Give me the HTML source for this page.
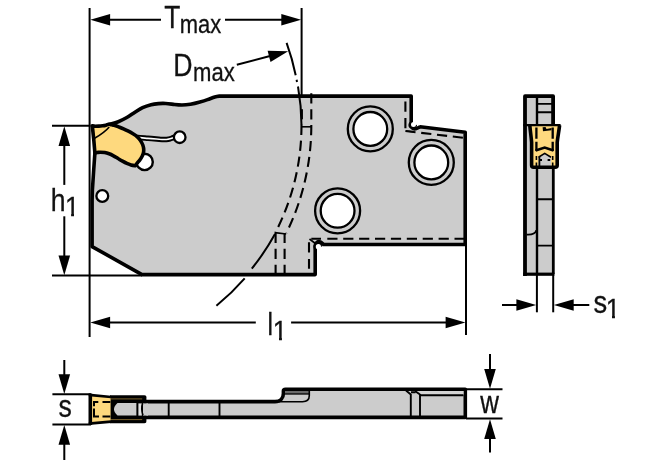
<!DOCTYPE html>
<html lang="en">
<head>
<meta charset="utf-8">
<title>Tmax Dmax h1 l1 s s1 w</title>
<style>
html,body{margin:0;padding:0;background:#fff;}
body{width:670px;height:460px;overflow:hidden;}
svg{display:block;will-change:transform;}
text{font-family:"Liberation Sans",sans-serif;fill:#111;stroke:#111;stroke-width:0.3px;}
.thin{stroke:#000;stroke-width:2;fill:none;}
.med{stroke:#000;stroke-width:1.6;fill:none;}
.thick{stroke:#000;stroke-width:3.6;fill:none;stroke-linejoin:round;}
.dash{stroke:#000;stroke-width:2.1;fill:none;stroke-dasharray:10.2 5.7;}
.ring{stroke:#000;stroke-width:2.3;fill:none;}
.g{fill:#cccccc;}
.y{fill:#fed97e;}
.ah{fill:#000;stroke:none;}
</style>
</head>
<body>
<svg width="670" height="460" viewBox="0 0 670 460">
<rect width="670" height="460" fill="#fff"/>

<!-- ===== MAIN VIEW ===== -->
<g id="main">
  <!-- body -->
  <path class="g thick" d="M108.5,124.6 C110.1,124.1 115.2,122.9 118.3,121.7 C121.3,120.5 124.0,119.1 126.8,117.5 C129.6,115.9 132.7,113.6 135.3,112.0 C137.9,110.4 140.0,108.9 142.6,107.7 C145.2,106.5 148.5,105.4 151.1,104.7 C153.7,104.0 155.9,103.8 158.4,103.6 C160.9,103.4 163.1,103.3 165.8,103.5 C168.5,103.7 171.9,104.2 174.6,104.5 C177.3,104.8 179.3,105.0 181.9,105.0 C184.5,105.0 187.6,104.7 190.4,104.2 C193.2,103.7 196.2,103.0 199.0,102.2 C201.8,101.4 204.9,100.5 207.5,99.6 C210.1,98.7 212.8,97.6 214.8,97.0 C216.8,96.4 218.9,96.2 219.7,96.1 L411.2,96.1 L411.2,122 C410.6,125.5 411.5,128.6 414.5,128.9 C416.5,129 418,127.8 420,126.8 L465.2,132.3 L465.2,244.5 L323.6,244.5 L320.5,242 C318,240.8 315.6,242.5 315.2,245.5 C315,247.5 315.2,249 315.2,251 L315.2,274.6 L142,274.6 L92.1,246.6 L92.1,200 L92.4,190 L93.7,170 L94.9,153 Z"/>
  <!-- hidden dashed lines -->
  <path class="dash" d="M405.4,101.6 L405.4,111.9 M405.4,118 L405.4,131"/>
  <path class="dash" d="M405.4,131 L463.5,137.8" stroke-dashoffset="-0" stroke-dasharray="11.5 5.5 10.4 5.6 10.4 5.6 10.4 5.6"/>
  <path class="med" d="M406,131 L414,131.8" stroke-width="2.6"/>
  <path class="dash" d="M309,268.8 L309,259.1 M309,252.4 L309,238.8 L321,238.8 M327.3,238.8 L465,238.8" />
  <path class="med" d="M309.5,239 L316,244"/>
  <!-- Dmax hidden arcs -->
  <path class="dash" d="M311.3,93.3 L311.3,127 A244 244 0 0 1 286.4,233"/>
  <path class="med" d="M301.6,126.8 L311.3,126.8" stroke-width="1.8"/>
  <path class="dash" d="M301.9,109.2 L301.9,119.3"/>
  <path class="dash" d="M301.5,124.8 A234.3 234.3 0 0 1 275.2,233"/>
  <path class="med" d="M275,232.6 L286.2,234" stroke-width="1.8"/>
  <path class="dash" d="M275.6,232.9 L275.6,274"/>
  <path class="dash" d="M284.6,232.9 L284.6,274"/>
  <!-- holes -->
  <g class="ring">
    <circle cx="370.3" cy="128.9" r="22.5"/>
    <circle cx="370.3" cy="128.9" r="16.9" style="fill:#fff"/>
    <circle cx="431.3" cy="162.4" r="22.5"/>
    <circle cx="431.3" cy="162.4" r="16.9" style="fill:#fff"/>
    <circle cx="337.6" cy="210.8" r="22.5"/>
    <circle cx="337.6" cy="210.8" r="16.9" style="fill:#fff"/>
    <circle cx="102.3" cy="196" r="5.9" style="fill:#fff"/>
  </g>
  <!-- relief notches -->
  <circle cx="317.8" cy="246.4" r="4.3" fill="#000"/>
  <path d="M317,246.6 L322,246.6 L322,253 L317,253 Z" fill="#fff"/>
  <circle cx="318.4" cy="246.7" r="2.6" fill="#fff"/>
  <circle cx="412.7" cy="125" r="4.3" fill="#000"/>
  <path d="M413,120 L420,120 L420,125.2 L413,124.6 Z" fill="#fff"/>
  <circle cx="413.5" cy="124.6" r="2.5" fill="#fff"/>
  <!-- slot -->
  <path d="M136.0,135.7 C136.7,135.7 138.1,135.8 140.1,135.9 C142.1,136.0 145.3,136.3 148.0,136.5 C150.7,136.7 154.2,137.0 156.5,137.2 C158.8,137.4 160.4,137.6 162.0,137.7 C163.6,137.8 164.9,137.8 166.3,137.7 C167.7,137.5 169.1,137.2 170.5,136.8 C171.9,136.4 173.8,135.5 174.5,135.2 L175,139 C174.2,139.2 171.9,140.1 170.5,140.5 C169.1,140.9 167.7,141.1 166.3,141.2 C164.9,141.3 163.6,141.3 162.0,141.2 C160.4,141.1 158.8,141.0 156.5,140.8 C154.2,140.6 150.7,140.3 148.0,140.1 C145.3,139.9 142.1,139.6 140.1,139.5 C138.1,139.4 136.7,139.3 136.0,139.3 Z" fill="#fff"/>
  <path d="M136.0,135.7 C136.7,135.7 138.1,135.8 140.1,135.9 C142.1,136.0 145.3,136.3 148.0,136.5 C150.7,136.7 154.2,137.0 156.5,137.2 C158.8,137.4 160.4,137.6 162.0,137.7 C163.6,137.8 164.9,137.8 166.3,137.7 C167.7,137.5 169.1,137.2 170.5,136.8 C171.9,136.4 173.8,135.5 174.5,135.2" style="fill:none;stroke:#000;stroke-width:1.9"/>
  <path d="M136.0,139.3 C136.7,139.3 138.1,139.4 140.1,139.5 C142.1,139.6 145.3,139.9 148.0,140.1 C150.7,140.3 154.2,140.6 156.5,140.8 C158.8,141.0 160.4,141.1 162.0,141.2 C163.6,141.3 164.9,141.3 166.3,141.2 C167.7,141.1 169.1,140.9 170.5,140.5 C171.9,140.1 174.2,139.2 175.0,139.0" style="fill:none;stroke:#000;stroke-width:1.9"/>
  <circle cx="179.7" cy="137.2" r="5.8" style="fill:#fff;stroke:#000;stroke-width:2.3"/>
  <!-- relief circle -->
  <circle cx="144.6" cy="161.9" r="8.2" style="fill:#fff;stroke:#000;stroke-width:2.4"/>
  <!-- insert -->
  <path class="y" stroke="#000" stroke-width="3.6" stroke-linejoin="round" d="M92.3,125.8 C92.8,125.9 94.2,126.2 95.3,126.2 C96.4,126.2 97.6,126.2 98.8,126.1 C100.0,126.0 101.3,125.9 102.5,125.8 C103.7,125.7 104.9,125.5 105.9,125.2 C106.9,125.0 107.7,124.4 108.5,124.3 C109.3,124.2 110.2,124.4 110.5,124.4 C111.2,124.6 113.2,125.0 114.5,125.4 C115.8,125.8 116.5,126.0 118.0,126.6 C119.5,127.2 121.8,128.0 123.5,128.8 C125.2,129.6 126.8,130.4 128.4,131.2 C130.0,132.0 131.5,132.9 133.0,133.8 C134.5,134.7 136.1,135.7 137.3,136.8 C138.6,137.9 139.6,139.2 140.5,140.6 C141.4,142.0 142.3,143.6 142.8,145.0 C143.3,146.4 143.6,147.7 143.7,149.0 C143.8,150.3 143.7,151.8 143.4,153.0 C143.1,154.2 142.6,155.4 142.0,156.5 C141.4,157.6 140.7,158.7 140.0,159.7 C139.3,160.7 138.4,161.7 137.6,162.7 C136.8,163.7 135.6,165.3 135.2,165.8 C134.5,165.7 132.4,165.4 131.0,165.0 C129.6,164.6 128.3,164.0 126.9,163.4 C125.5,162.8 124.0,162.0 122.5,161.2 C121.0,160.4 119.5,159.4 118.0,158.5 C116.5,157.6 115.0,156.6 113.5,155.8 C112.0,155.0 110.6,154.3 109.1,153.8 C107.6,153.3 106.2,152.9 104.7,152.6 C103.2,152.3 101.5,152.2 100.3,152.2 C99.1,152.2 98.2,152.4 97.3,152.5 C96.4,152.6 95.3,152.9 94.9,153.0 L93.8,140 L92.3,125.8 Z"/>
  <path d="M93.8,138.8 C99.5,135.5 105.3,131.8 109.2,127" stroke="#000" stroke-width="1.6" fill="none"/>
</g>

<!-- Dmax arc -->
<path class="thin" d="M286.6,42.8 A234.3 234.3 0 0 1 295.7,75.2"/>
<path class="thin" d="M296.6,79.8 L297,82"/>
<path class="thin" d="M298,86.5 A234.3 234.3 0 0 1 301.5,125" stroke-width="1.6"/>
<path class="thin" d="M275,234 A234.3 234.3 0 0 1 251.8,268.6"/>
<path class="thin" d="M244.7,278.4 A234.3 234.3 0 0 1 216.4,305.8"/>

<!-- ===== DIMENSIONS main ===== -->
<g class="thin">
  <path d="M89.6,8 L89.6,337"/>
  <path d="M301.6,8 L301.6,96"/>
  <path d="M108,19.8 L161,19.8"/>
  <path d="M225,19.8 L283,19.8"/>
  <path d="M52,125.7 L90.5,125.7"/>
  <path d="M52,275.6 L142,275.6"/>
  <path d="M64.3,144 L64.3,184.9"/>
  <path d="M64.3,216.3 L64.3,257"/>
  <path d="M466,244 L466,335"/>
  <path d="M108,322.5 L255.8,322.5"/>
  <path d="M291.1,322.5 L447,322.5"/>
  <path d="M236.8,64.8 L271,55.8"/>
</g>

<!-- ===== SIDE VIEW ===== -->
<g id="side">
  <rect class="g" x="525" y="96.2" width="28.2" height="178"/>
  <path class="y" d="M529.5,125.3 L559.9,125.3 L557.5,142.3 L557.5,167 L531.3,167 L531.3,142.3 Z"/>
  <path class="g" d="M538.2,166.5 L538.2,157 L544.7,153.2 L551.2,157 L551.2,166.5 Z"/>
  <!-- outer frame -->
  <path d="M525,275.9 L525,96.2 L553.1,96.2 L553.1,125" style="fill:none;stroke:#000;stroke-width:3.8;stroke-linejoin:round"/>
  <path d="M523.2,274.2 L554.4,274.2" style="fill:none;stroke:#000;stroke-width:3.2"/>
  <path d="M553.3,167 L553.3,274" style="fill:none;stroke:#000;stroke-width:2.8"/>
  <path d="M537,98 L537,125 M537,168 L537,274" style="fill:none;stroke:#000;stroke-width:2.4"/>
  <path d="M537,103.9 L553,103.9 M537,112.3 L553,112.3 M537,199.3 L553,199.3 M537,245.6 L553,245.6" style="fill:none;stroke:#000;stroke-width:1.9"/>
  <path d="M526.5,234.6 C531,234.9 535.3,234 536.3,230.3" style="fill:none;stroke:#000;stroke-width:1.7"/>
  <path d="M523.3,125.2 L560.6,125.2" style="fill:none;stroke:#000;stroke-width:2.3"/>
  <!-- insert outline -->
  <path d="M529.8,125.3 C530.3,131 531.2,137 531.6,142.3 L531.6,165.3 C531.6,166.7 532.3,167.3 533.6,167.3 L555.2,167.3 C556.5,167.3 557.2,166.7 557.2,165.3 L557.2,142.3 C557.7,137 559,131 559.6,125.3" style="fill:none;stroke:#000;stroke-width:3.6;stroke-linejoin:round"/>
  <path d="M536.4,127.5 L536.4,138.7 M536.4,141.8 L536.4,151 M552.7,127.5 L552.7,138.7 M552.7,141.8 L552.7,151" style="fill:none;stroke:#000;stroke-width:2.3"/>
  <path d="M536.4,156 L536.4,166 M552.7,156 L552.7,166" style="fill:none;stroke:#000;stroke-width:1.6;stroke-dasharray:4 2.5"/>
  <path d="M535.6,150.6 L544.7,147.6 L553.5,150.6" style="fill:none;stroke:#000;stroke-width:2.6;stroke-linejoin:miter"/>
  <path d="M538.5,157.3 L544.7,153.4 L551,157.3" style="fill:none;stroke:#000;stroke-width:1.6"/>
  <path d="M539.3,160 L542,160 M547.6,160 L550.2,160 M539.3,167.2 L546.5,167.2 M539.4,157 L539.4,166" style="fill:none;stroke:#000;stroke-width:1.8"/>
  <path d="M542.6,127.3 L545.5,127 L546.5,129 L551.5,128 L551.5,130.3 L543,131.2 Z" fill="#000"/>
</g>
<!-- s1 dim -->
<g class="thin">
  <path d="M536.9,274 L536.9,312.3"/>
  <path d="M553.2,274 L553.2,312.3"/>
  <path d="M502,305 L520,305"/>
  <path d="M571,305 L589.3,305"/>
</g>

<!-- ===== BOTTOM VIEW ===== -->
<g id="bottom">
  <path class="g thick" d="M140,401.6 L275,401.6 C280.5,401.6 283.4,398 283.4,393.5 L283.4,391 C283.4,389.6 284.1,389.2 285.5,389.2 L465.3,389.2 L465.3,417.4 L140,417.4 Z"/>
  <!-- pocket -->
  <path d="M285,391 L309.3,391 L309.3,394 L285,394 Z" fill="#6a6a6a"/>
  <path d="M285,394 L309,394" style="fill:none;stroke:#000;stroke-width:1.3"/>
  <path d="M309.3,391 L309.3,395.5 C309.3,399.5 306.5,401.7 302.5,401.7 L279,401.7" style="fill:none;stroke:#000;stroke-width:1.6"/>
  <!-- right details -->
  <path d="M420,391 L463.5,391 L463.5,395 L420,395 Z" fill="#d4d4d4"/>
  <path d="M410.8,394 L410.8,416 M420,394 L420,416 M420,395.2 L463.5,395.2 M406,390.5 L410.8,394.5 M415,391 L420,394.6 M411,392.3 L415.5,392.3" style="fill:none;stroke:#000;stroke-width:1.9"/>
  <path d="M168.7,402 L168.7,417 M219.5,402 L219.5,417" style="fill:none;stroke:#000;stroke-width:1.9"/>
  <!-- holder -->
  <path d="M110,395.2 L144.4,395.2 C145.8,395.2 146.4,396 146.4,397.2 L146.4,421.2 C146.4,422.5 145.8,423.2 144.4,423.2 L110,423.2 Z" fill="#000"/>
  <path d="M110.4,398.9 L142.2,398.9 M110.4,419.6 L142.2,419.6" style="fill:none;stroke:#b08c40;stroke-width:0.7"/>
  <path class="g" d="M117.5,403.1 L136.4,403.1 L136.4,415.4 L117.5,415.4 C115,413 114,411 114,409.2 C114,407.5 115,405.5 117.5,403.1 Z"/>
  <rect x="138.4" y="403.4" width="3.4" height="12.2" fill="#e2e2e2"/>
  <rect class="g" x="143" y="403.4" width="5" height="12.2"/>
  <path d="M142.6,403.6 C141.6,406 141.6,411 143,415.2" style="fill:none;stroke:#000;stroke-width:1.5"/>
  <!-- insert -->
  <path class="y" d="M90,394.8 L110.6,397 L110.6,421.4 L90,424 Z"/>
  <path d="M88.8,394.9 L111,397 M88.8,423.6 L111,421.6" style="fill:none;stroke:#000;stroke-width:2.6"/>
  <path d="M90.3,393.6 L90.3,425" style="fill:none;stroke:#000;stroke-width:3.6"/>
  <path d="M110.4,401.9 L102.5,401.9 M98.3,401.9 L94,401.9 L94,406.2 M94,408.6 L94,416.5 L99,416.5 M102.5,416.5 L110.4,416.5" style="fill:none;stroke:#000;stroke-width:2"/>
</g>
<!-- s & w dims -->
<g class="thin">
  <path d="M52.4,394.3 L91,394.3"/>
  <path d="M52.4,424.5 L91,424.5"/>
  <path d="M64.3,360 L64.3,376"/>
  <path d="M64.3,443 L64.3,460"/>
  <path d="M466,389.2 L502.5,389.2"/>
  <path d="M466,418.6 L502.5,418.6"/>
  <path d="M490,354 L490,371"/>
  <path d="M490,437 L490,452.5"/>
</g>

<g class="ah" id="arrows">
  <path d="M90.3,19.8 L110.1,25.6 L110.1,14.0 Z"/>
  <path d="M301.1,19.8 L281.3,14.0 L281.3,25.6 Z"/>
  <path d="M64.3,126.2 L58.5,146.0 L70.1,146.0 Z"/>
  <path d="M64.3,275.2 L70.1,255.4 L58.5,255.4 Z"/>
  <path d="M90.3,322.5 L110.1,328.3 L110.1,316.7 Z"/>
  <path d="M465.4,322.5 L445.6,316.7 L445.6,328.3 Z"/>
  <path d="M288.2,51.3 L267.6,50.7 L270.5,61.9 Z"/>
  <path d="M536.2,305.0 L516.4,299.2 L516.4,310.8 Z"/>
  <path d="M553.9,305.0 L573.7,310.8 L573.7,299.2 Z"/>
  <path d="M64.3,394.0 L70.1,374.2 L58.5,374.2 Z"/>
  <path d="M64.3,425.0 L58.5,444.8 L70.1,444.8 Z"/>
  <path d="M490.0,388.8 L495.8,369.0 L484.2,369.0 Z"/>
  <path d="M490.0,419.2 L484.2,439.0 L495.8,439.0 Z"/>
</g>

<!-- ===== TEXT ===== -->
<defs>
  <clipPath id="k1" clipPathUnits="userSpaceOnUse"><path clip-rule="evenodd" d="M-20,-40 H60 V20 H-20 Z M14.81,2.10 H23.47 V7.10 H14.81 Z M26.81,2.10 H35.11 V7.10 H26.81 Z"/></clipPath>
  <clipPath id="k2" clipPathUnits="userSpaceOnUse"><path clip-rule="evenodd" d="M-20,-40 H60 V20 H-20 Z M5.12,1.90 H14.28 V6.90 H5.12 Z M17.90,1.90 H26.67 V6.90 H17.90 Z"/></clipPath>
  <clipPath id="k3" clipPathUnits="userSpaceOnUse"><path clip-rule="evenodd" d="M-20,-40 H60 V20 H-20 Z M12.56,2.00 H21.16 V7.00 H12.56 Z M24.46,2.00 H32.70 V7.00 H24.46 Z"/></clipPath>
</defs>
<g>
  <text transform="translate(164.3,27.9) scale(0.85,1)" font-size="31">T<tspan x="18.12" y="5.10" font-size="26" textLength="48.83" lengthAdjust="spacingAndGlyphs">max</tspan></text>
  <text transform="translate(173.2,75.8) scale(0.86,1)" font-size="31">D<tspan x="23.02" y="5.40" font-size="26" textLength="48.54" lengthAdjust="spacingAndGlyphs">max</tspan></text>
  <text transform="translate(50.7,210.6) scale(0.87,1)" font-size="30.5" clip-path="url(#k1)">h<tspan x="16.32" y="5.10" font-size="27" textLength="16.56" lengthAdjust="spacingAndGlyphs">1</tspan></text>
  <text transform="translate(267.6,334.7) scale(0.8,1)" font-size="31" clip-path="url(#k2)">l<tspan x="6.50" y="4.90" font-size="27" textLength="18.01" lengthAdjust="spacingAndGlyphs">1</tspan></text>
  <text transform="translate(593.4,313) scale(0.88,1)" font-size="31" clip-path="url(#k3)">s<tspan x="14.09" y="5.00" font-size="27" textLength="16.38" lengthAdjust="spacingAndGlyphs">1</tspan></text>
  <text transform="translate(58.6,417) scale(0.86,1)" font-size="31">s</text>
  <text transform="translate(480.2,412.5) scale(0.835,1)" font-size="31">w</text>
</g>
</svg>
</body>
</html>
